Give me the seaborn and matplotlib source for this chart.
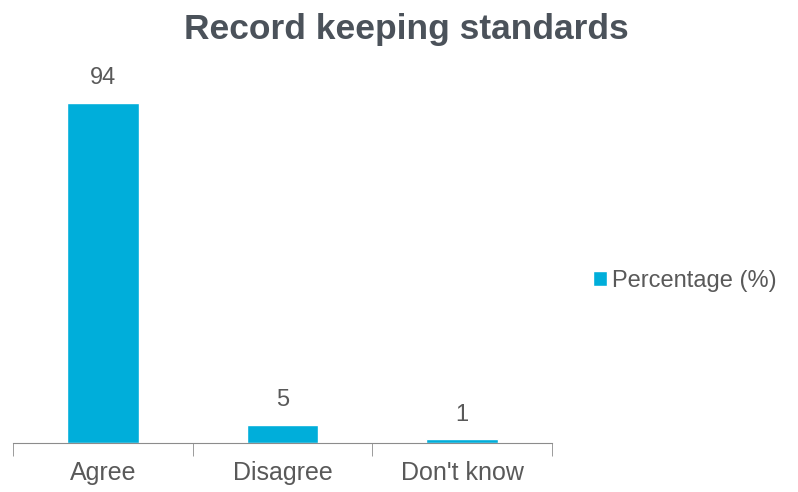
import matplotlib
matplotlib.use("Agg")
import matplotlib.pyplot as plt
import seaborn as sns
import pandas as pd

categories = ["Agree", "Disagree", "Don't know"]
percentages = [94, 5, 1]
series_name = "Percentage (%)"

sns.set_style("white")
plt.rcParams['font.family'] = ['Liberation Sans', 'DejaVu Sans']

df = pd.DataFrame({"answer": categories, "pct": percentages})

fig = plt.figure(figsize=(7.98, 4.92), dpi=100)
ax = fig.add_axes([0.0163, 0.0996, 0.6754, 0.735])

bar_color = "#00AEDA"
text_grey = "#595959"
sns.barplot(data=df, x="answer", y="pct", color=bar_color, width=0.4,
            label=series_name, ax=ax, saturation=1)

# value labels above bars
for i, v in enumerate(percentages):
    ax.text(i, v + 3.8, str(v), ha="center", va="bottom", fontsize=17, color=text_grey)

ax.set_ylim(0, 100)
ax.set_xlim(-0.5, 2.5)
ax.set_xlabel("")
ax.set_ylabel("")
ax.set_yticks([])
for s in ["top", "right", "left"]:
    ax.spines[s].set_visible(False)
ax.spines["bottom"].set_color("#8c8c8c")
ax.tick_params(axis="x", which="major", length=0, pad=13, labelsize=18, labelcolor=text_grey)
ax.set_xticks([-0.5, 0.5, 1.5, 2.5], minor=True)
ax.tick_params(axis="x", which="minor", length=9, color="#8c8c8c", bottom=True, direction="out")

fig.text(0.509, 1 - 39 / 492, "Record keeping standards", ha="center", va="baseline",
         fontsize=25.5, fontweight="bold", color="#4b525a")

leg = ax.legend(loc="center left", bbox_to_anchor=(593 / 798, 1 - 281 / 492),
                bbox_transform=fig.transFigure, frameon=False, borderaxespad=0, borderpad=0,
                fontsize=17, handlelength=0.6, handleheight=0.6, handletextpad=0.2)
for t in leg.get_texts():
    t.set_color(text_grey)

fig.savefig("out.png", dpi=100)
